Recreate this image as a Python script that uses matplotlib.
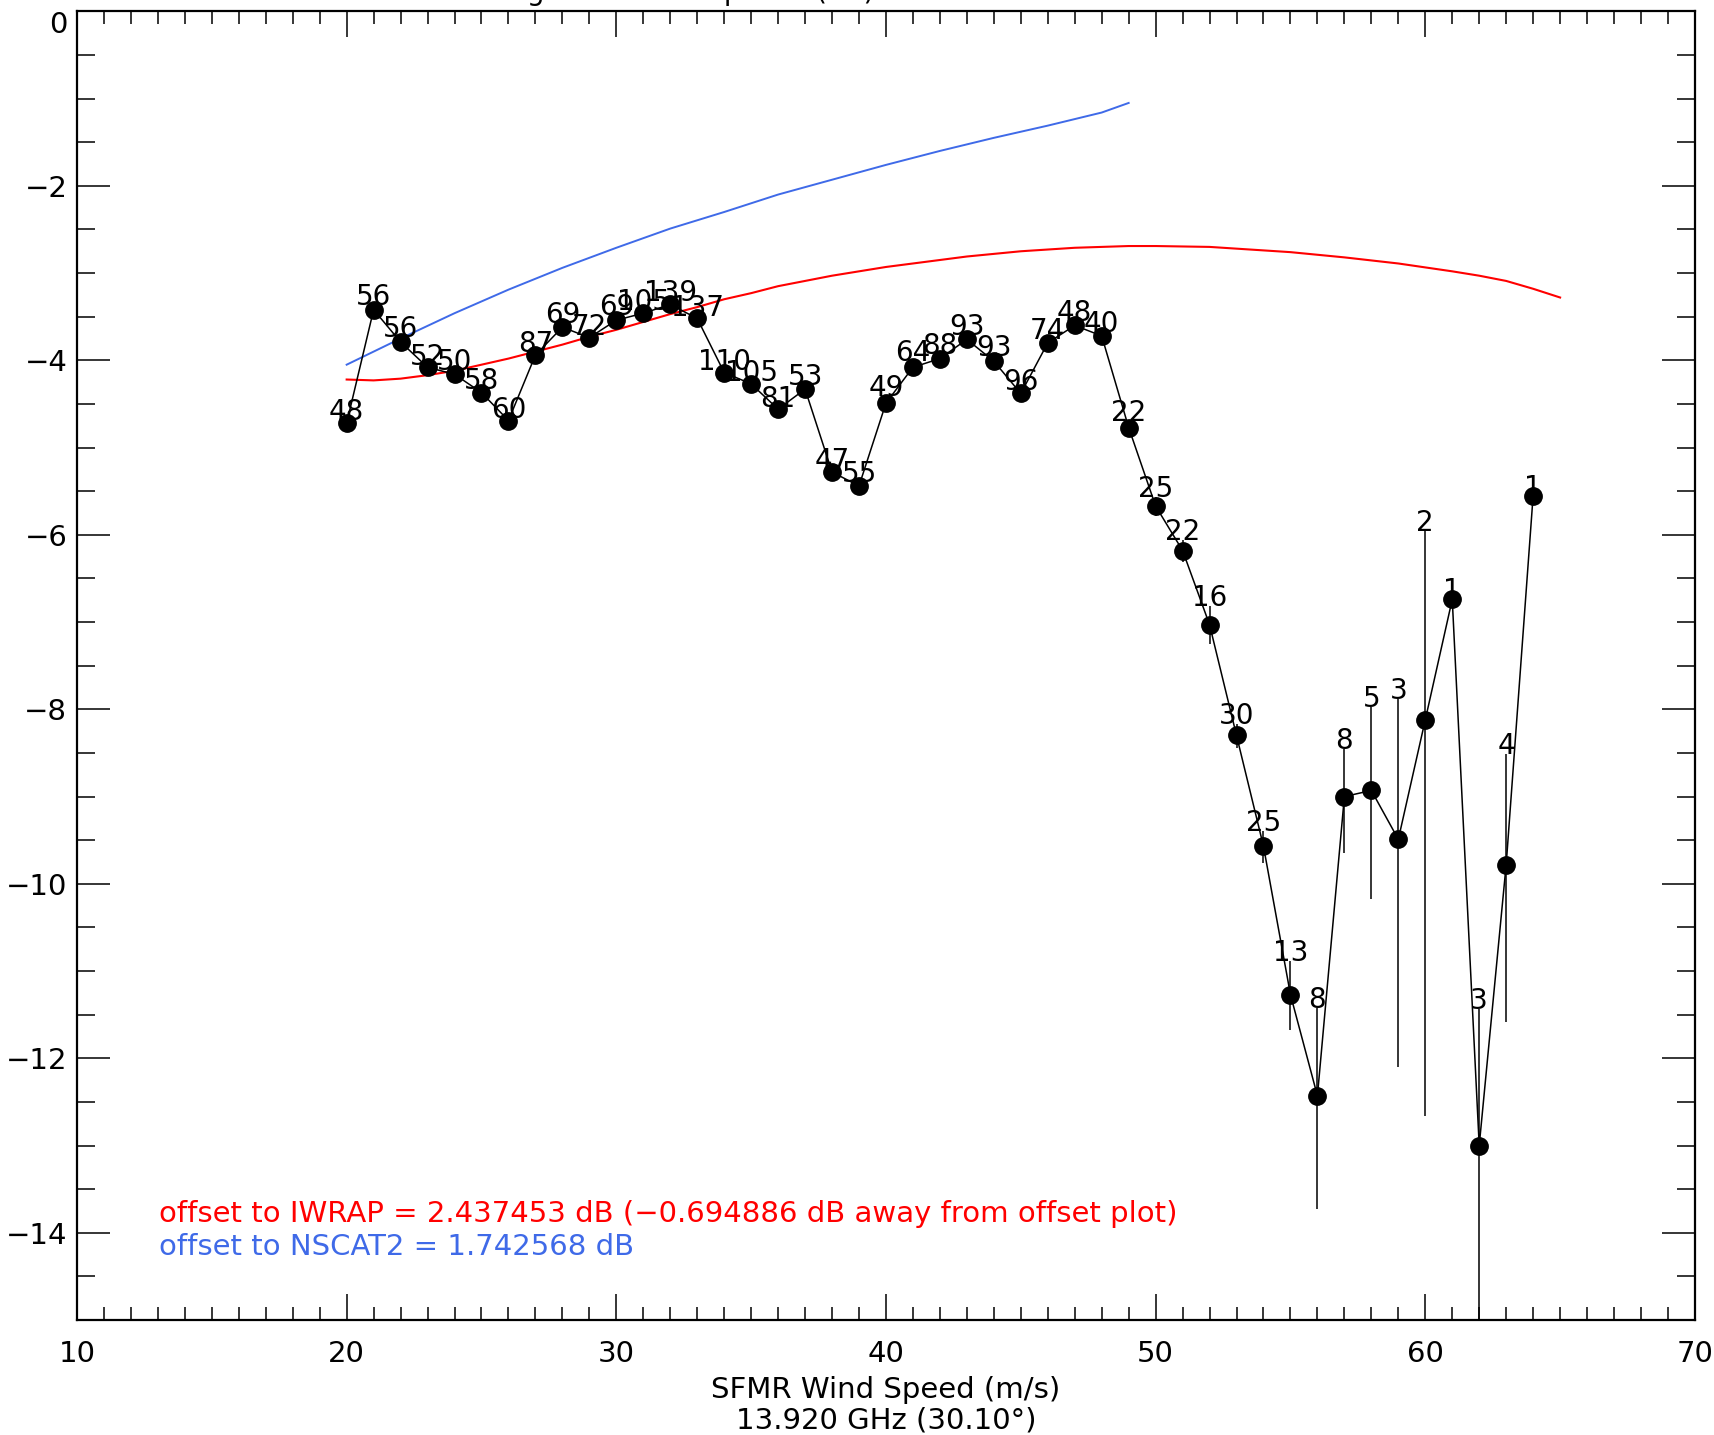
import matplotlib
matplotlib.use('Agg')
import matplotlib.pyplot as plt
from matplotlib.ticker import MultipleLocator

plt.rcParams['axes.unicode_minus'] = True
plt.rcParams['font.family'] = ['DejaVu Sans']

# Velocidades del viento (m/s) y sigma0 promedio (dB)
viento = [20, 21, 22, 23, 24, 25, 26, 27, 28, 29, 30, 31, 32, 33, 34, 35, 36, 37, 38, 39, 40, 41,
          42, 43, 44, 45, 46, 47, 48, 49, 50, 51, 52, 53, 54, 55, 56, 57, 58, 59, 60, 61, 62, 63, 64]
sigma0 = [-4.72, -3.42, -3.79, -4.08, -4.16, -4.37, -4.69, -3.94, -3.62, -3.74, -3.54, -3.46, -3.36,
          -3.52, -4.14, -4.27, -4.56, -4.33, -5.28, -5.44, -4.49, -4.08, -3.98, -3.76, -4.01, -4.38,
          -3.80, -3.60, -3.72, -4.77, -5.67, -6.18, -7.03, -8.30, -9.57, -11.27, -12.43, -9.00,
          -8.93, -9.49, -8.12, -6.74, -13.00, -9.78, -5.55]
# Numero de muestras en cada punto
cuentas = [48, 56, 56, 52, 50, 58, 60, 87, 69, 72, 69, 105, 139, 137, 110, 105, 81, 53, 47, 55, 49,
           64, 88, 93, 93, 96, 74, 48, 40, 22, 25, 22, 16, 30, 25, 13, 8, 8, 5, 3, 2, 1, 3, 4, 1]
# Barras de error (arriba / abajo)
error_arriba = [0.04, 0.05, 0.06, 0.03, 0.05, 0.04, 0.03, 0.03, 0.05, 0.03, 0.06, 0.04, 0.04, 0.03,
                0.03, 0.03, 0.03, 0.05, 0.04, 0.04, 0.08, 0.07, 0.05, 0.05, 0.06, 0.04, 0.04, 0.05,
                0.05, 0.07, 0.10, 0.12, 0.21, 0.13, 0.17, 0.38, 1.01, 0.55, 0.96, 1.61, 2.16, 0.0,
                1.56, 1.27, 0.0]
error_abajo = [0.04, 0.05, 0.06, 0.03, 0.05, 0.04, 0.03, 0.03, 0.05, 0.03, 0.06, 0.04, 0.04, 0.03,
               0.03, 0.03, 0.03, 0.05, 0.04, 0.04, 0.08, 0.07, 0.05, 0.05, 0.06, 0.04, 0.04, 0.05,
               0.05, 0.07, 0.11, 0.13, 0.22, 0.14, 0.19, 0.40, 1.30, 0.65, 1.24, 2.61, 4.54, 0.0,
               5.00, 1.80, 0.0]

# Modelo IWRAP (rojo)
viento_iwrap = [20, 21, 22, 23, 24, 25, 26, 27, 28, 29, 30, 31, 32, 33, 34, 35, 36, 37, 38, 39, 40,
                41, 42, 43, 44, 45, 46, 47, 48, 49, 50, 51, 52, 53, 54, 55, 56, 57, 58, 59, 60, 61,
                62, 63, 64, 65]
sigma0_iwrap = [-4.22, -4.23, -4.21, -4.17, -4.12, -4.05, -3.98, -3.90, -3.82, -3.73, -3.65, -3.56,
                -3.47, -3.39, -3.30, -3.23, -3.15, -3.09, -3.03, -2.98, -2.93, -2.89, -2.85, -2.81,
                -2.78, -2.75, -2.73, -2.71, -2.70, -2.69, -2.69, -2.695, -2.70, -2.72, -2.74, -2.76,
                -2.79, -2.82, -2.855, -2.89, -2.935, -2.98, -3.03, -3.09, -3.18, -3.28]

# Modelo NSCAT2 (azul)
viento_nscat = [20, 22, 24, 26, 28, 30, 32, 34, 36, 38, 40, 42, 44, 46, 48, 49]
sigma0_nscat = [-4.05, -3.75, -3.46, -3.19, -2.94, -2.71, -2.49, -2.30, -2.10, -1.93, -1.76, -1.60,
                -1.45, -1.31, -1.16, -1.05]

texto_iwrap = 'offset to IWRAP = 2.437453 dB (\u22120.694886 dB away from offset plot)'
texto_nscat = 'offset to NSCAT2 = 1.742568 dB'

fig = plt.figure(figsize=(17.15, 14.35), dpi=100)
ax = fig.add_axes([0.0449, 0.0801, 0.9434, 0.912])

ax.plot(viento_iwrap, sigma0_iwrap, color='#ff0000', lw=1.5)
ax.plot(viento_nscat, sigma0_nscat, color='#3f6ae8', lw=1.4)

ax.errorbar(viento, sigma0, yerr=[error_abajo, error_arriba], fmt='o-', color='black',
            ms=12.5, lw=1.1, elinewidth=1.1, capsize=0)

# Etiquetas con el numero de muestras
for x, y, e, n in zip(viento, sigma0, error_arriba, cuentas):
    ax.text(x, y + e, str(n), ha='center', va='baseline', fontsize=20)

ax.text(0.0507, 0.081, texto_iwrap, color='#ff0000', fontsize=21, transform=ax.transAxes,
        va='center')
ax.text(0.0507, 0.056, texto_nscat, color='#3f6ae8', fontsize=21, transform=ax.transAxes,
        va='center')

ax.set_xlim(10, 70)
ax.set_ylim(-15, 0)
ax.set_yticks(range(-14, 1, 2))
ax.xaxis.set_major_locator(MultipleLocator(10))
ax.xaxis.set_minor_locator(MultipleLocator(1))
ax.yaxis.set_minor_locator(MultipleLocator(0.5))
ax.tick_params(axis='x', which='major', direction='in', top=True, length=19, width=1.1,
               labelsize=21, pad=14)
ax.tick_params(axis='x', which='minor', direction='in', top=True, length=9.5, width=1.1)
ax.tick_params(axis='y', which='major', direction='in', right=True, length=24, width=1.1,
               labelsize=21, pad=7)
ax.tick_params(axis='y', which='minor', direction='in', right=True, length=13, width=1.1)
for lado in ax.spines.values():
    lado.set_linewidth(1.6)

# La etiqueta "0" queda un poco mas abajo, dentro de la figura
ax.yaxis.get_major_ticks()[-1].label1.set_verticalalignment('top')

ax.set_xlabel('SFMR Wind Speed (m/s)\n13.920 GHz (30.10\u00b0)', fontsize=21, labelpad=6,
              linespacing=1.1)

# Titulo cortado por el borde superior
fig.text(0.51, 1.0, 'Mean Sigma0 for all Upwind (dB)', ha='right', va='baseline', fontsize=20)

fig.savefig('out.png', dpi=100)
